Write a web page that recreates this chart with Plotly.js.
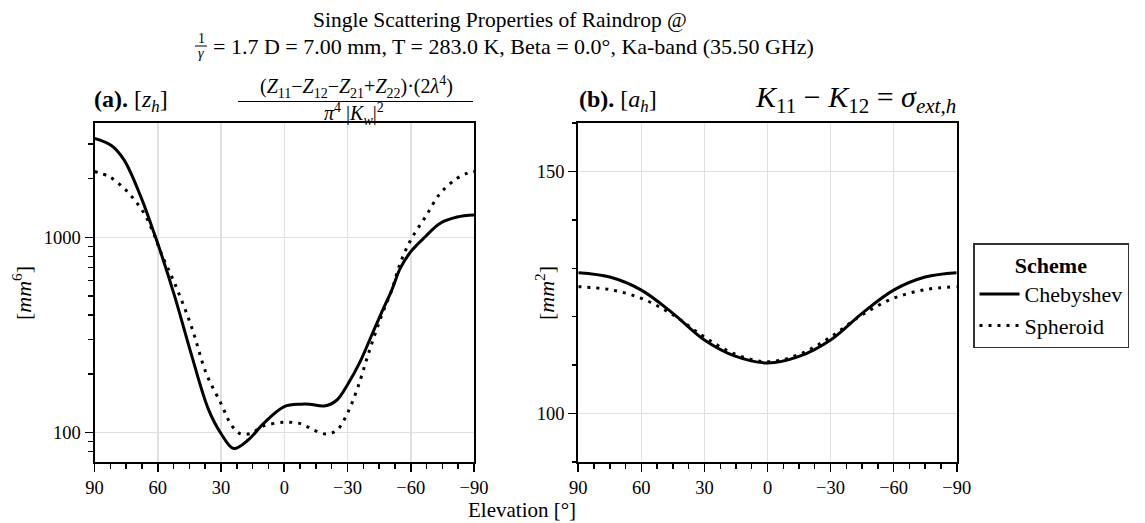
<!DOCTYPE html>
<html>
<head>
<meta charset="utf-8">
<script src="https://cdn.plot.ly/plotly-3.0.1.min.js"></script>
<style>html,body{margin:0;padding:0;background:#fff;}#chart{width:1145px;height:523px;}</style>
</head>
<body>
<div id="chart"></div>
<script>
// ---- data ----
const elevZhCheb = [90, 82, 76, 68, 62, 60, 52, 44, 36, 30, 24, 17, 10, 0, -8, -12, -19, -25, -30, -36, -41, -46, -51, -55, -60, -67, -74, -82, -90];
const zhCheb     = [3210, 2950, 2490, 1610, 1070, 930, 500, 250, 132, 99, 83, 92, 111, 136, 140, 140, 137, 147, 176, 231, 307, 408, 537, 693, 844, 1010, 1180, 1270, 1300];
const elevZhSph  = [90, 83, 76, 71, 66, 62, 58, 52, 44, 37, 30, 25, 21, 16, 10, 0, -8, -14, -20, -25, -30, -35, -40, -46, -51, -55, -60, -67, -74, -82, -87, -90];
const zhSph      = [2170, 2043, 1781, 1553, 1300, 1048, 811, 582, 349, 201, 141, 109, 99, 99, 108, 113, 111, 103, 98.5, 103, 126, 172, 255, 393, 537, 736, 969, 1274, 1679, 2005, 2130, 2170];

const elevAh = [90, 75, 60, 45, 30, 15, 0, -15, -30, -45, -60, -75, -90];
const ahCheb = [129.1, 128.2, 125.5, 120.7, 115.2, 111.8, 110.45, 111.8, 115.2, 120.7, 125.5, 128.2, 129.1];
const ahSph  = [126.2, 125.6, 123.8, 120.4, 115.8, 112.2, 110.7, 112.2, 115.8, 120.4, 123.8, 125.6, 126.2];

const schemes = ['Chebyshev', 'Spheroid'];
const xTicks = [90, 60, 30, 0, -30, -60, -90];
const zhTicks = [100, 1000];
const ahTicks = [100, 150];

// ---- layout helpers ----
const W = 1145, H = 523;
const px = x => x / W;
const py = y => 1 - y / H;
const FONT = 'Liberation Serif, Times New Roman, serif';

const solid = {color: '#000', width: 3, dash: 'solid', shape: 'spline', smoothing: 1};
const dotted = {color: '#000', width: 3, dash: '3px,6px', shape: 'spline', smoothing: 1};

const traces = [
  {x: elevZhCheb, y: zhCheb, xaxis: 'x', yaxis: 'y', mode: 'lines', line: solid, name: schemes[0], legendgroup: 'c', showlegend: true},
  {x: elevZhSph, y: zhSph, xaxis: 'x', yaxis: 'y', mode: 'lines', line: dotted, name: schemes[1], legendgroup: 's', showlegend: true},
  {x: elevAh, y: ahCheb, xaxis: 'x2', yaxis: 'y2', mode: 'lines', line: solid, name: schemes[0], legendgroup: 'c', showlegend: false},
  {x: elevAh, y: ahSph, xaxis: 'x2', yaxis: 'y2', mode: 'lines', line: dotted, name: schemes[1], legendgroup: 's', showlegend: false}
];

const tickFont = {family: FONT, size: 18.5, color: '#000'};
function xax(domain, anchor) {
  return {
    domain: domain, anchor: anchor, range: [90, -90], tickmode: 'array', tickvals: xTicks,
    ticks: 'outside', ticklen: 8, tickwidth: 1.6, tickcolor: '#000',
    showline: true, linewidth: 2, linecolor: '#000', mirror: true,
    showgrid: true, gridcolor: '#e0e0e0', gridwidth: 1.5, zeroline: false,
    tickfont: tickFont,
    minor: {ticks: 'outside', ticklen: 4.5, tickwidth: 1.4, tickcolor: '#000', dtick: 7.5, tick0: 0, showgrid: false}
  };
}
const yDom = [61 / H, 400 / H];
const txt = (x, y, text, size, opts) => Object.assign({
  xref: 'paper', yref: 'paper', x: px(x), y: py(y), text: text, showarrow: false,
  xanchor: 'center', yanchor: 'middle', font: {family: FONT, size: size, color: '#000'}
}, opts || {});

const layout = {
  width: W, height: H,
  margin: {l: 0, r: 0, t: 0, b: 0},
  paper_bgcolor: '#fff', plot_bgcolor: '#fff',
  font: {family: FONT, color: '#000'},
  showlegend: true,
  xaxis: xax([94.5 / W, 474 / W], 'y'),
  xaxis2: xax([578.3 / W, 956.7 / W], 'y2'),
  yaxis: {
    domain: yDom, anchor: 'x', type: 'log', range: [1.850, 3.585],
    tickmode: 'array', tickvals: zhTicks, ticktext: zhTicks.map(String),
    ticks: 'outside', ticklen: 8, tickwidth: 1.6, tickcolor: '#000',
    showline: true, linewidth: 2, linecolor: '#000', mirror: true,
    showgrid: true, gridcolor: '#e0e0e0', gridwidth: 1.5, zeroline: false,
    tickfont: tickFont,
    minor: {ticks: 'outside', ticklen: 4.5, tickwidth: 1.4, tickcolor: '#000', tickmode: 'array',
            tickvals: [80, 90, 200, 300, 400, 500, 600, 700, 800, 900, 2000, 3000], showgrid: false}
  },
  yaxis2: {
    domain: yDom, anchor: 'x2', range: [90, 160],
    tickmode: 'array', tickvals: ahTicks,
    ticks: 'outside', ticklen: 8, tickwidth: 1.6, tickcolor: '#000',
    showline: true, linewidth: 2, linecolor: '#000', mirror: true,
    showgrid: true, gridcolor: '#e0e0e0', gridwidth: 1.5, zeroline: false,
    tickfont: tickFont,
    minor: {ticks: 'outside', ticklen: 4.5, tickwidth: 1.4, tickcolor: '#000', dtick: 10, tick0: 0, showgrid: false}
  },
  legend: {
    x: px(973), y: py(243), xanchor: 'left', yanchor: 'top',
    bordercolor: '#333', borderwidth: 1.5, bgcolor: '#fff',
    font: {family: FONT, size: 22, color: '#000'},
    title: {text: '<b>Scheme</b>', side: 'top center', font: {family: FONT, size: 22, color: '#000'}},
    tracegroupgap: 0, itemwidth: 40
  },
  shapes: [
    {type: 'line', xref: 'paper', yref: 'paper', x0: px(238), x1: px(473), y0: py(101.5), y1: py(101.5), line: {color: '#000', width: 1.2}},
    {type: 'line', xref: 'paper', yref: 'paper', x0: px(195), x1: px(207), y0: py(46), y1: py(46), line: {color: '#000', width: 1}}
  ],
  annotations: [
    txt(500, 20, 'Single Scattering Properties of Raindrop @', 21.5),
    txt(201, 38, '1', 14),
    txt(201, 54, '<i>γ</i>', 14),
    txt(211, 47, '= 1.7 D = 7.00 mm, T = 283.0 K, Beta = 0.0°, Ka-band (35.50 GHz)', 22, {xanchor: 'left'}),
    txt(92, 101, '<b>(a).</b> [<i>z</i><sub><i>h</i></sub>]', 24, {xanchor: 'left'}),
    txt(356, 87, '(<i>Z</i><sub>11</sub>−<i>Z</i><sub>12</sub>−<i>Z</i><sub>21</sub>+<i>Z</i><sub>22</sub>)·(2<i>λ</i><sup>4</sup>)', 20),
    txt(354, 114, '<i>π</i><sup>4</sup> |<i>K</i><sub><i>w</i></sub>|<sup>2</sup>', 20),
    txt(577, 101, '<b>(b).</b> [<i>a</i><sub><i>h</i></sub>]', 24, {xanchor: 'left'}),
    txt(958, 99, '<i>K</i><sub>11</sub> − <i>K</i><sub>12</sub> = <i>σ</i><sub><i>ext,h</i></sub>', 30, {xanchor: 'right'}),
    txt(22, 293, '[<i>mm</i><sup>6</sup>]', 22, {textangle: -90}),
    txt(545, 293, '[<i>mm</i><sup>2</sup>]', 22, {textangle: -90}),
    txt(522, 510, 'Elevation [°]', 21)
  ]
};

Plotly.newPlot('chart', traces, layout, {staticPlot: true, displayModeBar: false});
</script>
</body>
</html>
